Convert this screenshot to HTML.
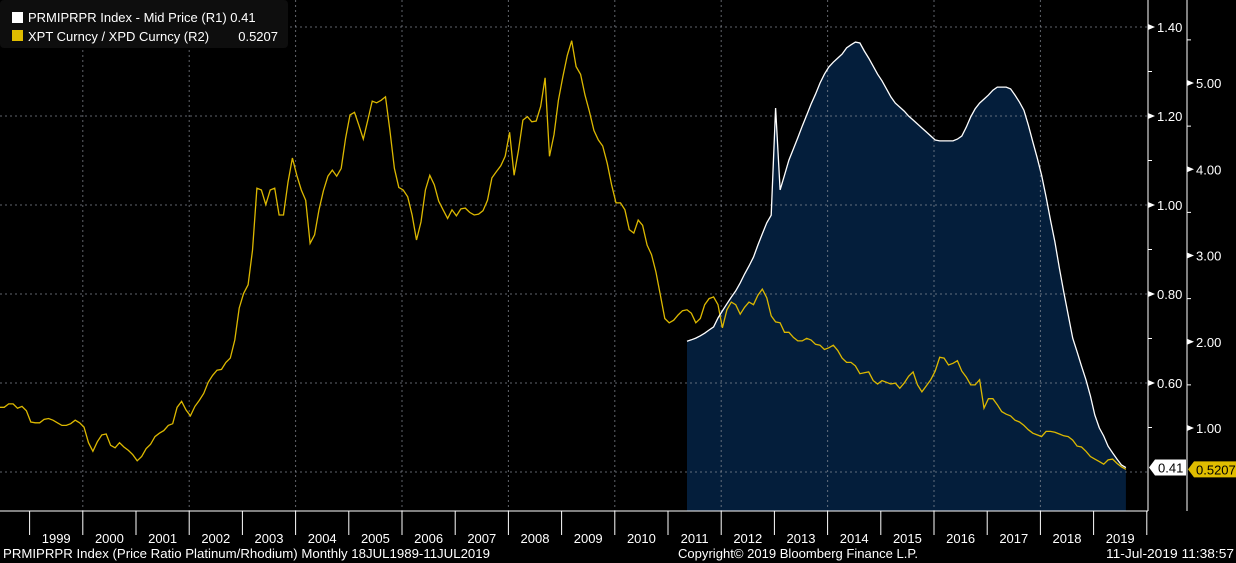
<!DOCTYPE html>
<html><head><meta charset="utf-8"><style>
html,body{margin:0;padding:0;background:#000;}
svg{display:block;font-family:"Liberation Sans",sans-serif;}
</style></head><body>
<svg id="chart" width="1236" height="563" viewBox="0 0 1236 563">
<rect x="0" y="0" width="1236" height="563" fill="#000"/>
<g id="fillLayer"></g><g id="gridLayer"></g><g id="seriesLayer"></g><g id="axisLayer"></g>
<g>
<rect x="0" y="0" width="288" height="48" rx="4" fill="#0e0e0e"/>
<rect x="12" y="12" width="11" height="11" fill="#fff"/>
<text x="28" y="22" fill="#fff" font-size="13">PRMIPRPR Index - Mid Price (R1) 0.41</text>
<rect x="12" y="30" width="11" height="11" fill="#e0bd00"/>
<text x="28" y="41" fill="#fff" font-size="13">XPT Curncy / XPD Curncy (R2)</text>
<text x="278" y="41" fill="#fff" font-size="13" text-anchor="end">0.5207</text>
</g>
<text x="3" y="558" fill="#fff" font-size="12.5" textLength="487" lengthAdjust="spacingAndGlyphs">PRMIPRPR Index (Price Ratio Platinum/Rhodium)  Monthly 18JUL1989-11JUL2019</text>
<text x="678" y="558" fill="#fff" font-size="12.5" textLength="240" lengthAdjust="spacingAndGlyphs">Copyright© 2019 Bloomberg Finance L.P.</text>
<text x="1234" y="558" fill="#fff" font-size="12.5" text-anchor="end" textLength="128" lengthAdjust="spacingAndGlyphs">11-Jul-2019 11:38:57</text>
</svg>
<script>
// Data: monthly, index 0 = mid-1998
const startYear = 1998.44;
const goldValues = [1.24,1.24,1.28,1.28,1.23,1.25,1.20,1.07,1.06,1.06,1.10,1.11,1.09,1.06,1.03,1.03,1.05,1.09,1.06,1.01,
0.83,0.73,0.84,0.92,0.93,0.80,0.77,0.83,0.78,0.74,0.69,0.62,0.67,0.76,0.81,0.90,0.94,0.97,1.03,1.05,
1.24,1.31,1.21,1.14,1.25,1.32,1.40,1.53,1.61,1.67,1.68,1.76,1.81,2.02,2.39,2.56,2.66,3.06,3.78,3.76,
3.59,3.76,3.78,3.47,3.47,3.85,4.13,3.93,3.76,3.64,3.14,3.24,3.53,3.75,3.92,3.99,3.92,4.01,4.36,4.63,
4.66,4.51,4.35,4.57,4.79,4.77,4.80,4.84,4.45,4.01,3.79,3.76,3.68,3.47,3.18,3.39,3.76,3.93,3.82,3.63,
3.53,3.43,3.53,3.46,3.54,3.55,3.50,3.47,3.48,3.52,3.64,3.90,3.97,4.04,4.15,4.43,3.93,4.22,4.57,4.61,
4.55,4.56,4.73,5.06,4.15,4.40,4.80,5.07,5.32,5.49,5.19,5.10,4.86,4.67,4.45,4.34,4.27,4.07,3.82,3.61,
3.61,3.53,3.30,3.26,3.41,3.35,3.12,3.01,2.81,2.54,2.27,2.22,2.25,2.31,2.36,2.37,2.33,2.22,2.27,2.43,
2.50,2.52,2.43,2.16,2.37,2.46,2.43,2.32,2.40,2.46,2.43,2.54,2.61,2.51,2.30,2.23,2.22,2.11,2.11,2.05,
2.01,2.01,2.04,2.02,1.97,1.96,1.91,1.93,1.96,1.90,1.81,1.76,1.76,1.72,1.63,1.64,1.65,1.55,1.51,1.55,
1.53,1.51,1.52,1.46,1.52,1.60,1.65,1.50,1.42,1.49,1.56,1.66,1.82,1.81,1.73,1.75,1.78,1.66,1.59,1.50,
1.50,1.56,1.23,1.34,1.34,1.27,1.19,1.16,1.14,1.09,1.07,1.03,0.98,0.94,0.92,0.90,0.96,0.96,0.95,0.93,
0.91,0.90,0.86,0.79,0.78,0.73,0.67,0.64,0.61,0.58,0.63,0.64,0.59,0.55,0.5207];
const whiteStart = 155;
const whiteValues = [0.694,0.697,0.701,0.706,0.712,0.719,0.726,0.746,0.762,0.778,0.793,0.807,0.825,0.845,0.863,0.883,0.910,0.935,0.960,
0.977,1.218,1.034,1.067,1.101,1.126,1.151,1.177,1.202,1.227,1.249,1.274,1.294,1.310,1.321,1.330,1.339,1.353,1.360,1.366,
1.364,1.346,1.330,1.312,1.294,1.279,1.261,1.243,1.229,1.220,1.211,1.200,1.191,1.182,1.173,1.164,1.155,1.146,1.144,1.144,
1.144,1.144,1.148,1.155,1.175,1.198,1.216,1.229,1.238,1.247,1.258,1.265,1.265,1.265,1.261,1.247,1.231,1.213,1.180,1.142,
1.106,1.067,1.018,0.966,0.917,0.858,0.804,0.753,0.701,0.670,0.638,0.607,0.571,0.528,0.499,0.481,0.458,0.443,0.429,0.416,0.41];
const years = [1999,2000,2001,2002,2003,2004,2005,2006,2007,2008,2009,2010,2011,2012,2013,2014,2015,2016,2017,2018,2019];
const r1Ticks = ["1.40","1.20","1.00","0.80","0.60"];
const r2Ticks = ["5.00","4.00","3.00","2.00","1.00"];

const NS = "http://www.w3.org/2000/svg";
function xYear(t){ return 29.6 + (t - 1999) * 53.2; }
function xMonth(i){ return xYear(startYear + i / 12); }
function yR1(v){ return 383 - (v - 0.6) / 0.2 * 89; }
function yR2(v){ return 428 - (v - 1) * 86.25; }
function mk(tag, attrs, parent){ const e = document.createElementNS(NS, tag); for (const k in attrs) e.setAttribute(k, attrs[k]); parent.appendChild(e); return e; }
const fillL = document.getElementById('fillLayer'), gridL = document.getElementById('gridLayer'),
      serL = document.getElementById('seriesLayer'), axL = document.getElementById('axisLayer');
const BOTTOM = 511, RIGHT = 1148;

// white area
let pts = whiteValues.map((v, i) => xMonth(whiteStart + i).toFixed(1) + ',' + yR1(v).toFixed(1));
const x0 = xMonth(whiteStart), x1 = xMonth(whiteStart + whiteValues.length - 1);
const area = mk('polygon', {points: x0.toFixed(1) + ',' + BOTTOM + ' ' + pts.join(' ') + ' ' + x1.toFixed(1) + ',' + BOTTOM, fill: '#041e3b'}, fillL);



// grid
for (let v = 0.4; v <= 1.41; v += 0.2) {
  const g = mk('line', {x1: 0, x2: RIGHT, y1: yR1(v), y2: yR1(v), stroke: '#8a8f99', 'stroke-opacity': 0.7, 'stroke-dasharray': '2,3', 'stroke-width': 1}, gridL);
  
  
}
for (let yr = 2000; yr <= 2018; yr += 2) {
  const g = mk('line', {x1: xYear(yr), x2: xYear(yr), y1: 0, y2: BOTTOM, stroke: '#8a8f99', 'stroke-opacity': 0.7, 'stroke-dasharray': '2,3', 'stroke-width': 1}, gridL);
  
  
}

// series
const gl = mk('polyline', {points: goldValues.map((v, i) => xMonth(i).toFixed(1) + ',' + yR2(v).toFixed(1)).join(' '), fill: 'none', stroke: '#dcb800', 'stroke-width': 1.3}, serL);


const wl = mk('polyline', {points: pts.join(' '), fill: 'none', stroke: '#ffffff', 'stroke-width': 1.3}, serL);



// axes
mk('line', {x1: 0, x2: RIGHT, y1: BOTTOM, y2: BOTTOM, stroke: '#fff', 'stroke-width': 1}, axL);
mk('line', {x1: RIGHT, x2: RIGHT, y1: 0, y2: BOTTOM, stroke: '#fff', 'stroke-width': 1}, axL);
mk('line', {x1: 1187, x2: 1187, y1: 0, y2: BOTTOM, stroke: '#fff', 'stroke-width': 1}, axL);
years.forEach(yr => {
  mk('line', {x1: xYear(yr), x2: xYear(yr), y1: BOTTOM, y2: 535, stroke: '#fff', 'stroke-width': 1}, axL);
  const t = mk('text', {x: xYear(yr) + 26.6, y: 543, fill: '#fff', 'font-size': 13, 'text-anchor': 'middle'}, axL);
  t.textContent = yr;
  
  
});
mk('line', {x1: xYear(2020), x2: xYear(2020), y1: BOTTOM, y2: 535, stroke: '#fff', 'stroke-width': 1}, axL);
for (let v = 0.5; v <= 1.36; v += 0.2) mk('line', {x1: RIGHT, x2: RIGHT + 4, y1: yR1(v), y2: yR1(v), stroke: '#fff'}, axL);
for (let v = 1.5; v <= 5.6; v += 1) mk('line', {x1: 1187, x2: 1191, y1: yR2(v), y2: yR2(v), stroke: '#fff'}, axL);
r1Ticks.forEach(s => {
  const y = yR1(parseFloat(s));
  mk('polygon', {points: `${RIGHT},${y-3} ${RIGHT+7},${y} ${RIGHT},${y+3}`, fill: '#fff'}, axL);
  const t = mk('text', {x: 1157, y: y + 5, fill: '#fff', 'font-size': 13}, axL);
  t.textContent = s;
  
  
});
r2Ticks.forEach(s => {
  const y = yR2(parseFloat(s));
  mk('polygon', {points: `1187,${y-3} 1194,${y} 1187,${y+3}`, fill: '#fff'}, axL);
  const t = mk('text', {x: 1196, y: y + 5, fill: '#fff', 'font-size': 13}, axL);
  t.textContent = s;
  
  
});
// last value tags
const wy = yR1(whiteValues[whiteValues.length - 1]);
const wt = mk('polygon', {points: `1149,${wy} 1155,${wy-8} 1186,${wy-8} 1186,${wy+8} 1155,${wy+8}`, fill: '#fff'}, axL);


const wtx = mk('text', {x: 1158, y: wy + 5, fill: '#000', 'font-size': 13}, axL);
wtx.textContent = whiteValues[whiteValues.length - 1].toFixed(2);
const gy = yR2(goldValues[goldValues.length - 1]);
const gt = mk('polygon', {points: `1188,${gy} 1194,${gy-8} 1236,${gy-8} 1236,${gy+8} 1194,${gy+8}`, fill: '#e0bd00'}, axL);


const gtx = mk('text', {x: 1196, y: gy + 5, fill: '#000', 'font-size': 13}, axL);
gtx.textContent = goldValues[goldValues.length - 1].toFixed(4);
</script>
</body></html>
